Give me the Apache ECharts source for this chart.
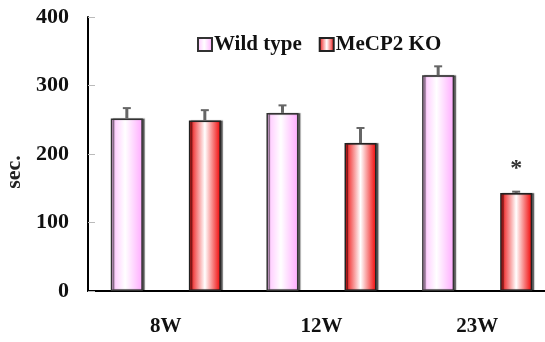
<!DOCTYPE html>
<html><head><meta charset="utf-8">
<script src="https://cdn.jsdelivr.net/npm/echarts@6/dist/echarts.min.js"></script>
<style>html,body{margin:0;padding:0;background:#fff}#c{width:545px;height:342px}</style>
</head><body><div id="c"></div>
<script>
const categories = ['8W', '12W', '23W'];
const wildType = [252, 260, 315];
const wildErr = [15, 11, 13];
const mecp2KO = [249, 216, 143];
const koErr = [15, 22, 2];
const koSig = ['', '', '*'];
const yTicks = [0, 100, 200, 300, 400];

const FONT = '"Liberation Serif", "Times New Roman", serif';
const chart = echarts.init(document.getElementById('c'), null, {renderer: 'canvas'});

const wildGrad = new echarts.graphic.LinearGradient(0, 0, 1, 0, [
  {offset: 0, color: '#FFBEFF'}, {offset: 0.45, color: '#FFFFFF'}, {offset: 1, color: '#FFAAFF'}
]);
const koGrad = new echarts.graphic.LinearGradient(0, 0, 1, 0, [
  {offset: 0, color: '#EE0000'}, {offset: 0.5, color: '#FFFFFF'}, {offset: 1, color: '#F00000'}
]);

const BAR_W = 32, GAP = 46;
const OFFSET = (BAR_W + GAP) / 2;

function errSeries(vals, errs, dir, sig) {
  return {
    type: 'custom',
    silent: true,
    z: 5,
    data: vals.map((v, i) => [i, v, errs[i]]),
    renderItem: function (params, api) {
      const i = api.value(0), v = api.value(1), e = api.value(2);
      const base = api.coord([i, v]);
      const top = api.coord([i, v + e]);
      const x = base[0] + dir * OFFSET;
      const children = [
        {type: 'line', shape: {x1: x, y1: base[1], x2: x, y2: top[1]}, style: {stroke: '#666', lineWidth: 3}},
        {type: 'line', shape: {x1: x - 4, y1: top[1], x2: x + 4, y2: top[1]}, style: {stroke: '#666', lineWidth: 2}}
      ];
      if (sig && sig[i]) {
        const p = api.coord([i, v + e + 34]);
        children.push({type: 'text', style: {text: sig[i], x: x, y: p[1], align: 'center', verticalAlign: 'middle',
          font: 'bold 24px ' + FONT, fill: '#333'}});
      }
      return {type: 'group', children: children};
    }
  };
}

chart.setOption({
  animation: false,
  backgroundColor: '#fff',
  grid: {left: 88, right: -10, top: 17, bottom: 51, containLabel: false, outerBoundsMode: 'none'},
  legend: {
    top: 29, left: 192,
    itemWidth: 14, itemHeight: 13, itemGap: 17,
    icon: 'rect',
    textStyle: {fontFamily: FONT, fontWeight: 'bold', fontSize: 21, color: '#111', padding: [0, 0, 0, -3]},
    data: ['Wild type', 'MeCP2 KO']
  },
  xAxis: {
    type: 'category', data: categories,
    axisLine: {lineStyle: {color: '#000', width: 2}},
    axisTick: {show: false},
    axisLabel: {fontFamily: FONT, fontWeight: 'bold', fontSize: 21, color: '#111', margin: 25}
  },
  yAxis: {
    type: 'value', min: yTicks[0], max: yTicks[yTicks.length - 1], interval: 100,
    name: 'sec.', nameLocation: 'middle', nameGap: 58, nameRotate: 90,
    nameTextStyle: {fontFamily: FONT, fontWeight: 'bold', fontSize: 22, color: '#222', padding: [0, 36, 0, 0]},
    axisLine: {show: true, lineStyle: {color: '#000', width: 2}},
    axisTick: {show: true, inside: true, length: 7, lineStyle: {color: '#bbb', width: 1}},
    splitLine: {show: false},
    axisLabel: {fontFamily: FONT, fontWeight: 'bold', fontSize: 22, color: '#111', margin: 19}
  },
  series: [
    {name: 'Wild type', type: 'bar', data: wildType, barWidth: BAR_W, barGap: (GAP / BAR_W * 100).toFixed(0) + '%',
     itemStyle: {color: wildGrad, borderColor: '#333', borderWidth: 1.5, shadowColor: 'rgba(0,0,0,0.55)', shadowOffsetX: 2, shadowBlur: 1}},
    {name: 'MeCP2 KO', type: 'bar', data: mecp2KO, barWidth: BAR_W,
     itemStyle: {color: koGrad, borderColor: '#222', borderWidth: 1.5, shadowColor: 'rgba(0,0,0,0.55)', shadowOffsetX: 2, shadowBlur: 1}},
    errSeries(wildType, wildErr, -1, null),
    errSeries(mecp2KO, koErr, 1, koSig)
  ]
});
</script></body></html>
